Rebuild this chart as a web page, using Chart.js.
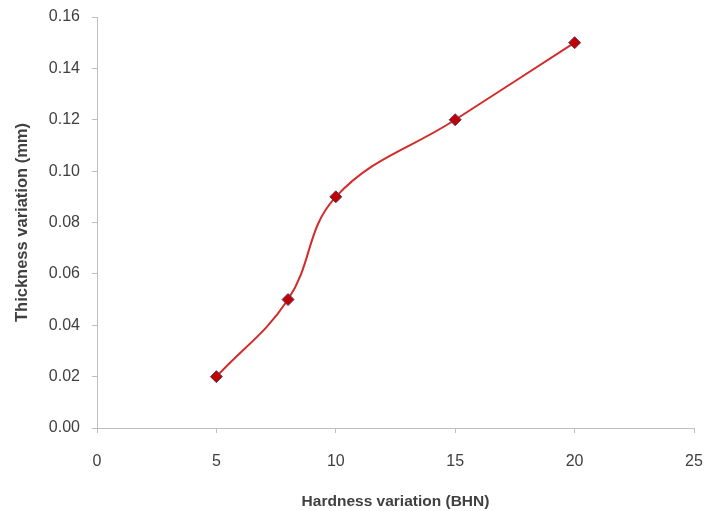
<!DOCTYPE html>
<html>
<head>
<meta charset="utf-8">
<script src="https://cdn.jsdelivr.net/npm/chart.js@4"></script>
<style>
    html, body { margin: 0; padding: 0; background: #fff; }
    #wrap { width: 704px; height: 511px; }
</style>
</head>
<body>
<div id="wrap"><canvas id="hardnessChart" width="704" height="511"></canvas></div>
<script>
// values
const hardness = [5, 8, 10, 15, 20];
const thickness = [0.02, 0.05, 0.09, 0.12, 0.15];

const axisColor = '#bfbfbf';
const textColor = '#404040';
const fontFamily = "'Liberation Sans', Arial, sans-serif";

const ctx = document.getElementById('hardnessChart').getContext('2d');

const points = hardness.map((h, i) => ({ x: h, y: thickness[i] }));

new Chart(ctx, {
    type: 'scatter',
    data: {
        datasets: [{
            label: 'Thickness variation',
            data: points,
            showLine: true,
            tension: 0.4,
            borderColor: '#d42a2a',
            borderWidth: 2,
            pointStyle: 'rectRot',
            pointRadius: 6,
            pointBackgroundColor: '#c00000',
            pointBorderColor: '#5a3a6a',
            pointBorderWidth: 1
        }]
    },
    options: {
        responsive: false,
        animation: false,
        layout: { padding: { left: 0, right: 10, top: 17, bottom: 0 } },
        plugins: {
            legend: { display: false },
            tooltip: { enabled: false }
        },
        scales: {
            x: {
                type: 'linear',
                min: 0,
                max: 25,
                ticks: { stepSize: 5, color: textColor, padding: 19, font: { family: fontFamily, size: 16 } },
                grid: { drawOnChartArea: false, color: axisColor, tickLength: 5 },
                border: { color: axisColor, width: 1 },
                title: {
                    display: true,
                    text: 'Hardness variation (BHN)',
                    color: textColor,
                    font: { family: fontFamily, size: 15.5, weight: 'bold' },
                    padding: { top: 2, bottom: 0 }
                },
                afterFit: scale => {
                    scale.height = 83;
                    scale.paddingLeft = 0;
                    scale.paddingRight = 0;
                }
            },
            y: {
                min: 0,
                max: 0.16,
                ticks: {
                    stepSize: 0.02,
                    color: textColor,
                    padding: 12,
                    font: { family: fontFamily, size: 16 },
                    callback: v => v.toFixed(2)
                },
                grid: { drawOnChartArea: false, color: axisColor, tickLength: 5 },
                border: { color: axisColor, width: 1 },
                title: {
                    display: true,
                    text: 'Thickness variation (mm)',
                    color: textColor,
                    font: { family: fontFamily, size: 16.5, weight: 'bold' },
                    padding: { top: 13, bottom: 8 }
                },
                afterFit: scale => {
                    scale.width = 97;
                    scale.paddingTop = 0;
                    scale.paddingBottom = 0;
                }
            }
        }
    }
});
</script>
</body>
</html>
